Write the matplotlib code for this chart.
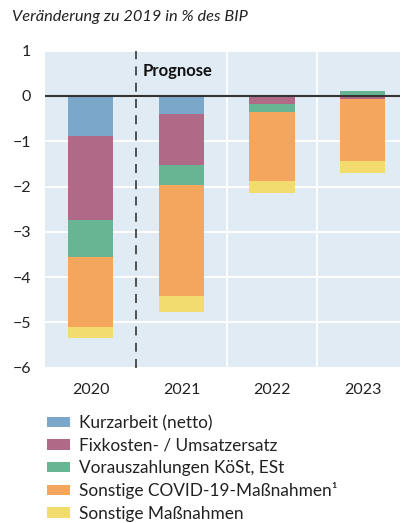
import matplotlib
matplotlib.use("Agg")
import matplotlib.pyplot as plt
import numpy as np

plt.rcParams['font.family'] = ['Lato', 'DejaVu Sans']

years = ["2020", "2021", "2022", "2023"]
series_names = ["Kurzarbeit (netto)", "Fixkosten- / Umsatzersatz", "Vorauszahlungen KöSt, ESt",
                "Sonstige COVID-19-Maßnahmen¹", "Sonstige Maßnahmen"]
kurzarbeit = [-0.89, -0.40, 0.0, 0.0]
fixkosten = [-1.85, -1.13, -0.18, -0.07]
vorauszahlungen = [-0.82, -0.44, -0.18, 0.12]
sonstige_covid = [-1.54, -2.44, -1.52, -1.37]
sonstige = [-0.24, -0.35, -0.27, -0.26]
colors = ["#7BA7CB", "#B06A88", "#67B592", "#F4A55E", "#F3DC6E"]
yticks = [1, 0, -1, -2, -3, -4, -5, -6]

data = [kurzarbeit, fixkosten, vorauszahlungen, sonstige_covid, sonstige]

fig = plt.figure(figsize=(4.01, 5.23), dpi=100)
ax = fig.add_axes([45/401, 1-367.7/523, 355/401, (367.7-50.7)/523])
ax.set_facecolor("#E1EBF4")
x = np.arange(len(years))
pos_base = np.zeros(len(years))
neg_base = np.zeros(len(years))
for vals, c, name in zip(data, colors, series_names):
    v = np.array(vals)
    bottoms = np.where(v >= 0, pos_base, neg_base)
    ax.bar(x, v, bottom=bottoms, width=0.5, color=c, label=name, zorder=3, linewidth=0)
    pos_base = pos_base + np.where(v >= 0, v, 0)
    neg_base = neg_base + np.where(v < 0, v, 0)

ax.set_xlim(-0.505, 3.41)
ax.set_ylim(-6, 1)
ax.set_yticks(yticks)
ax.set_yticklabels([str(t).replace("-", "\u2212") for t in yticks])
ax.set_xticks(x)
ax.set_xticklabels(years)
ax.tick_params(length=0, labelsize=11.5, colors="#222222")
ax.tick_params(axis='y', pad=10)
ax.tick_params(axis='x', pad=11)
for s in ax.spines.values():
    s.set_visible(False)
for t in yticks:
    ax.axhline(t, color="white", lw=1.3, zorder=1)
for xv in [1.5, 2.5]:
    ax.axvline(xv, color="white", lw=1.3, zorder=1)
ax.axhline(0, color="#333333", lw=1.5, zorder=4)
ax.axvline(0.5, color="#444444", lw=1.3, ls=(0, (5, 4)), zorder=4)
ax.text(0.575, 0.56, "Prognose", fontsize=12, fontweight="bold", va="center", ha="left", color="#111111", zorder=5)

fig.text(12/401, 1-17/523, "Veränderung zu 2019 in % des BIP", fontsize=11.8, style="italic",
         va="center", ha="left", color="#222222")

handles, labels = ax.get_legend_handles_labels()
leg = fig.legend(handles, labels, loc="upper left", bbox_to_anchor=(47/401, 1-415/523),
                 frameon=False, fontsize=12.4, handlelength=1.33, handleheight=0.55,
                 handletextpad=0.52, labelspacing=0.37, borderaxespad=0, borderpad=0)
for t in leg.get_texts():
    t.set_color("#222222")

fig.savefig("out.png", dpi=100)
